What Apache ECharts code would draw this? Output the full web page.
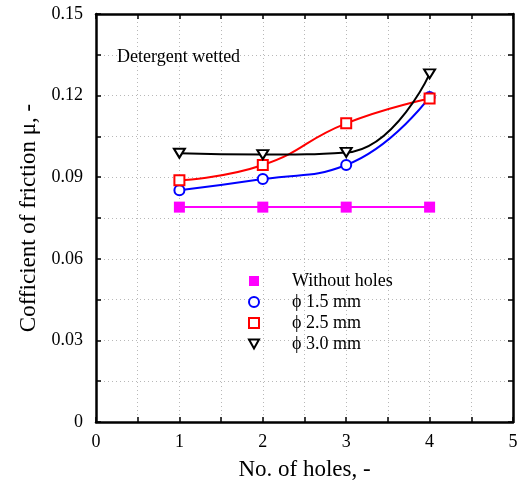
<!DOCTYPE html>
<html>
<head>
<meta charset="utf-8">
<script src="https://cdn.jsdelivr.net/npm/echarts@6/dist/echarts.min.js"></script>
<style>html,body{margin:0;padding:0;background:#fff;}#c{width:521px;height:486px;}</style>
</head>
<body>
<div id="c"></div>
<script>
var holes = [1, 2, 3, 4];
var withoutHoles = [0.0790, 0.0790, 0.0790, 0.0790];
var phi15 = [0.0852, 0.0893, 0.0945, 0.1195];
var phi25 = [0.0889, 0.0945, 0.1098, 0.1189];
var phi30 = [0.0988, 0.0983, 0.0991, 0.1280];
var seriesNames = ['Without holes', 'ϕ 1.5 mm', 'ϕ 2.5 mm', 'ϕ 3.0 mm'];
var annotation = 'Detergent wetted';

function pairs(ys) { return holes.map(function (x, i) { return [x, ys[i]]; }); }

var FONT = '"Liberation Serif", "Times New Roman", serif';
var chart = echarts.init(document.getElementById('c'), null, {renderer: 'canvas'});

var axisCommon = {
  axisLine: {show: true, onZero: false, lineStyle: {color: '#000', width: 2.5}},
  axisTick: {show: true, inside: true, length: 5, lineStyle: {color: '#000', width: 1.5}},
  minorTick: {show: true, splitNumber: 2, length: 5, lineStyle: {color: '#000', width: 1.5}}
};
var gridLine = {color: '#b8b8b8', type: [1, 3], width: 1};

chart.setOption({
  animation: false,
  backgroundColor: '#fff',
  title: {
    text: annotation, left: 112, top: 43,
    textStyle: {fontFamily: FONT, fontSize: 18, fontWeight: 'normal', color: '#000'}
  },
  grid: {left: 96, right: 8, top: 14, bottom: 64},
  legend: {
    orient: 'vertical', left: 243, top: 267,
    itemWidth: 10, itemHeight: 10, itemGap: 3,
    textStyle: {fontFamily: FONT, fontSize: 18, color: '#000', padding: [0, 0, 0, 28]},
    data: [
      {name: seriesNames[0], icon: 'rect', itemStyle: {color: '#ff00ff', borderWidth: 0}},
      {name: seriesNames[1], icon: 'circle', itemStyle: {color: '#fff', borderColor: '#0000ff', borderWidth: 2}},
      {name: seriesNames[2], icon: 'rect', itemStyle: {color: '#fff', borderColor: '#ff0000', borderWidth: 2}},
      {name: seriesNames[3], icon: 'path://M0,0L10,0L5,9Z', itemStyle: {color: '#fff', borderColor: '#000', borderWidth: 2}}
    ]
  },
  xAxis: [
    Object.assign({
      type: 'value', min: 0, max: 5, interval: 1, position: 'bottom',
      name: 'No. of holes, -', nameLocation: 'middle', nameGap: 36,
      nameTextStyle: {fontFamily: FONT, fontSize: 23, color: '#000'},
      axisLabel: {fontFamily: FONT, fontSize: 18, color: '#000', margin: 11},
      splitLine: {show: true, lineStyle: gridLine},
      minorSplitLine: {show: true, lineStyle: gridLine}
    }, axisCommon),
    Object.assign({
      type: 'value', min: 0, max: 5, interval: 1, position: 'top',
      axisLabel: {show: false}, splitLine: {show: false}
    }, axisCommon)
  ],
  yAxis: [
    Object.assign({
      type: 'value', min: 0, max: 0.15, interval: 0.03, position: 'left',
      name: 'Cofficient of friction μ, -', nameLocation: 'middle', nameGap: 55,
      nameTextStyle: {fontFamily: FONT, fontSize: 23, color: '#000'},
      axisLabel: {fontFamily: FONT, fontSize: 18, color: '#000', margin: 13,
        formatter: function (v) { return v === 0 ? '0' : v.toFixed(2); }},
      splitLine: {show: true, lineStyle: gridLine},
      minorSplitLine: {show: true, lineStyle: gridLine}
    }, axisCommon),
    Object.assign({
      type: 'value', min: 0, max: 0.15, interval: 0.03, position: 'right',
      axisLabel: {show: false}, splitLine: {show: false}
    }, axisCommon)
  ],
  series: [
    {
      name: seriesNames[0], type: 'line', data: pairs(withoutHoles),
      symbol: 'rect', symbolSize: 11,
      itemStyle: {color: '#ff00ff'}, lineStyle: {color: '#ff00ff', width: 2}
    },
    {
      name: seriesNames[1], type: 'line', data: pairs(phi15), smooth: 0.5,
      symbol: 'emptyCircle', symbolSize: 10,
      itemStyle: {color: '#0000ff', borderWidth: 2}, lineStyle: {color: '#0000ff', width: 2}
    },
    {
      name: seriesNames[2], type: 'line', data: pairs(phi25), smooth: 0.5,
      symbol: 'emptyRect', symbolSize: 10,
      itemStyle: {color: '#ff0000', borderWidth: 2}, lineStyle: {color: '#ff0000', width: 2}
    },
    {
      name: seriesNames[3], type: 'line', data: pairs(phi30), smooth: 0.5,
      symbol: 'emptyTriangle', symbolRotate: 180, symbolSize: [11, 9],
      itemStyle: {color: '#000', borderWidth: 2}, lineStyle: {color: '#000', width: 2}
    }
  ]
});
</script>
</body>
</html>
